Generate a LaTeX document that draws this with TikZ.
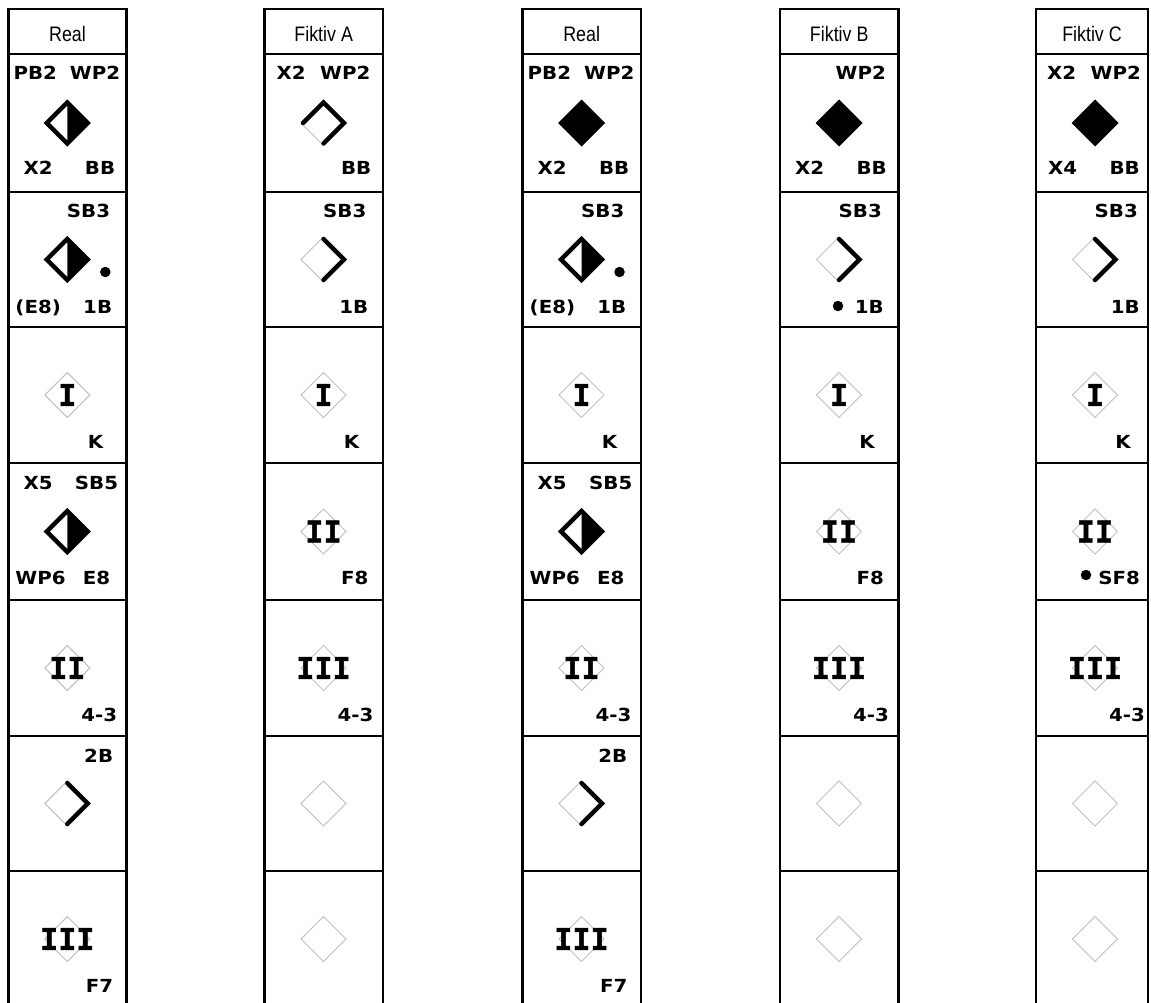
\documentclass[tikz,border=0pt]{standalone}
\usepackage{fontspec}
\newfontfamily\hdrfont{Liberation Sans}[FakeStretch=0.85]
\newfontfamily\lblfont{DejaVu Sans}[BoldFeatures={FakeStretch=1.1}]
\newfontfamily\romfont{DejaVu Sans Mono}[BoldFeatures={FakeBold=1.5}]
\tikzset{
  frame/.style={draw=black, line width=2.5pt},
  lbl/.style={inner sep=0pt, font=\lblfont\bfseries\fontsize{18}{21}\selectfont},
  hdr/.style={inner sep=0pt, anchor=base, font=\hdrfont\fontsize{21}{24}\selectfont},
  rom/.style={inner sep=0pt, font=\romfont\bfseries\fontsize{30}{32}\selectfont},
  gdia/.style={draw=black!25, line width=1pt},
  thk/.style={draw=black, line width=4.5pt, line cap=round, line join=miter},
  bdot/.style={fill=black, circle, inner sep=0pt, minimum size=10.5pt},
}
\newcommand\labW[4]{\node[lbl,anchor=base west] (#1) at (#2,#3) {#4};}
\newcommand\labE[4]{\node[lbl,anchor=base east] (#1) at (#2,#3) {#4};}
\newcommand\romn[4]{\node[rom] (#1) at (#2,#3) {#4};}
% diamonds
\newcommand\dG[2]{\draw[gdia,shift={(#1,#2)}] (0,-22.5)--(22.5,0)--(0,22.5)--(-22.5,0)--cycle;}
\newcommand\dH[2]{\fill[black,shift={(#1,#2)}] (0,-20.5)--(20.5,0)--(0,20.5)--cycle;
  \draw[thk,shift={(#1,#2)}] (0,-20.5)--(20.5,0)--(0,20.5)--(-20.5,0)--cycle;}
\newcommand\dF[2]{\fill[black,shift={(#1,#2)}] (0,-23.5)--(23.5,0)--(0,23.5)--(-23.5,0)--cycle;}
\newcommand\dC[2]{\dG{#1}{#2}\draw[thk,shift={(#1,#2)}] (0,-20.5)--(20.5,0)--(0,20.5);}
\newcommand\dT[2]{\dG{#1}{#2}\draw[thk,shift={(#1,#2)}] (-20.5,0)--(0,-20.5)--(20.5,0)--(0,20.5);}
% column frame: left, right, header node name, header text
\newcommand\colframe[4]{%
  \draw[frame] (#1,9) rectangle (#2,1007);
  \foreach \yy in {54,192,327,463,600,736,871}{\draw[frame] (#1,\yy) -- (#2,\yy);}
  \node[hdr] (#3) at ({(#1+#2)/2},41.5) {#4};
}
% "Real" column: prefix, left x, row-1 diamond
\newcommand\realcol[3]{%
  \def\cx{#2}%
  #3{\cx+59}{123}
  \labW{#1r1tl}{\cx+5}{80}{PB2}
  \labE{#1r1tr}{\cx+112}{80}{WP2}
  \labW{#1r1bl}{\cx+15}{175}{X2}
  \labE{#1r1br}{\cx+107}{175}{BB}
  \dH{\cx+59}{259.5}
  \node[bdot] (#1r2dot) at (\cx+97,272) {};
  \labE{#1r2tr}{\cx+102}{218}{SB3}
  \labW{#1r2bl}{\cx+7}{313}{(E8)}
  \labE{#1r2br}{\cx+104}{313}{1B}
  \dG{\cx+59}{395}
  \romn{#1r3}{\cx+59}{395}{I}
  \labE{#1r3br}{\cx+95}{448}{K}
  \dH{\cx+59}{531.5}
  \labW{#1r4tl}{\cx+15}{489}{X5}
  \labE{#1r4tr}{\cx+110}{489}{SB5}
  \labW{#1r4bl}{\cx+7}{584}{WP6}
  \labE{#1r4br}{\cx+102}{584}{E8}
  \dG{\cx+59}{668}
  \romn{#1r5}{\cx+59}{668}{II}
  \labE{#1r5br}{\cx+109}{721}{4-3}
  \dC{\cx+59}{803.5}
  \labE{#1r6tr}{\cx+105}{762}{2B}
  \dG{\cx+59}{939}
  \romn{#1r7}{\cx+59}{939}{III}
  \labE{#1r7br}{\cx+105}{992}{F7}
}
% lower part shared by fictive columns: prefix
\newcommand\fiklower[1]{%
  \dG{\cx+59}{395}
  \romn{#1r3}{\cx+59}{395}{I}
  \labE{#1r3br}{\cx+95}{448}{K}
  \dG{\cx+59}{531.5}
  \romn{#1r4}{\cx+59}{531.5}{II}
  \dG{\cx+59}{668}
  \romn{#1r5}{\cx+59}{668}{III}
  \labE{#1r5br}{\cx+109}{721}{4-3}
  \dG{\cx+59}{803.5}
  \dG{\cx+59}{939}
}
\begin{document}
\begin{tikzpicture}[x=1pt,y=-1pt]
\fill[white] (0,0) rectangle (1151,1003);
\useasboundingbox (0,0) rectangle (1151,1003);

% frames and headers
\colframe{8.3}{126.7}{hA}{Real}
\colframe{264.5}{382.9}{hB}{Fiktiv A}
\colframe{522.5}{640.9}{hC}{Real}
\colframe{780}{898.4}{hD}{Fiktiv B}
\colframe{1036}{1148}{hE}{Fiktiv C}

% column 1: Real
\realcol{a}{8.3}{\dH}
% column 3: Real
\realcol{c}{522.5}{\dF}

% column 2: Fiktiv A
\def\cx{264.5}
\dT{\cx+59}{123}
\labW{br1tl}{\cx+12}{80}{X2}
\labE{br1tr}{\cx+106}{80}{WP2}
\labE{br1br}{\cx+107}{175}{BB}
\dC{\cx+59}{259.5}
\labE{br2tr}{\cx+102}{218}{SB3}
\labE{br2br}{\cx+104}{313}{1B}
\fiklower{b}
\labE{br4br}{\cx+104}{584}{F8}

% column 4: Fiktiv B
\def\cx{780}
\dF{\cx+59}{123}
\labE{dr1tr}{\cx+106}{80}{WP2}
\labW{dr1bl}{\cx+15}{175}{X2}
\labE{dr1br}{\cx+107}{175}{BB}
\dC{\cx+59}{259.5}
\labE{dr2tr}{\cx+102}{218}{SB3}
\node[bdot] (dr2dot) at (\cx+58,306) {};
\labE{dr2br}{\cx+104}{313}{1B}
\fiklower{d}
\labE{dr4br}{\cx+104}{584}{F8}

% column 5: Fiktiv C
\def\cx{1036}
\dF{\cx+59}{123}
\labW{er1tl}{\cx+11}{80}{X2}
\labE{er1tr}{\cx+105}{80}{WP2}
\labW{er1bl}{\cx+12}{175}{X4}
\labE{er1br}{\cx+104}{175}{BB}
\dC{\cx+59}{259.5}
\labE{er2tr}{\cx+102}{218}{SB3}
\labE{er2br}{\cx+104}{313}{1B}
\fiklower{e}
\node[bdot] (er4dot) at (\cx+50,575) {};
\labE{er4br}{\cx+104}{584}{SF8}
\end{tikzpicture}
\end{document}
